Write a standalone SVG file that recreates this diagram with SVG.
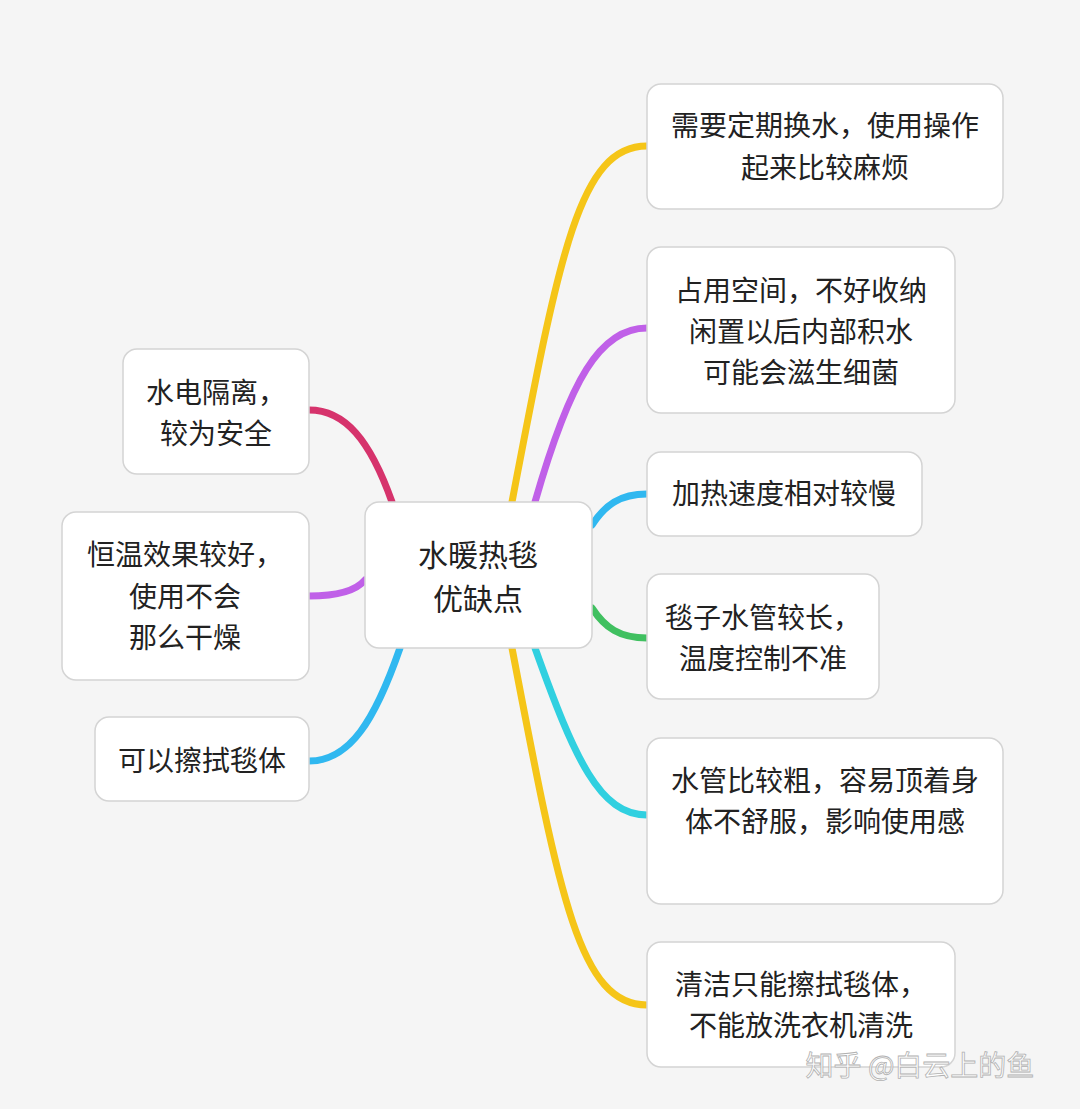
<svg xmlns="http://www.w3.org/2000/svg" width="1080" height="1109" viewBox="0 0 1080 1109">
<style>
.n{fill:#fff;stroke:#d4d4d4;stroke-width:1.5}
.t{font-family:"Noto Sans CJK SC","Noto Sans",sans-serif;font-size:28px;fill:#222;text-anchor:middle}
.c{fill:none;stroke-width:7;stroke-linecap:round}
</style>
<rect width="1080" height="1109" fill="#f5f5f5"/>
<g id="connectors">
<path class="c" stroke="#f5c518" d="M512,502 C560,250 580,146 647,146"/>
<path class="c" stroke="#f5c518" d="M512,648 C560,900 580,1005 647,1005"/>
<path class="c" stroke="#c060e8" d="M535,502 C570,380 600,328 647,328"/>
<path class="c" stroke="#30b8f0" d="M592,525 C605,505 620,494 647,494"/>
<path class="c" stroke="#40c060" d="M592,608 C605,628 620,638 647,638"/>
<path class="c" stroke="#30d0e0" d="M535,648 C575,760 600,815 647,815"/>
<path class="c" stroke="#d6336c" d="M392,502 C370,440 345,410 309,410"/>
<path class="c" stroke="#c060e8" d="M365,580 C355,592 335,596 309,596"/>
<path class="c" stroke="#30b8f0" d="M400,648 C375,720 350,761 309,761"/>
</g>
<g id="center"><rect class="n" x="365" y="502" width="227" height="146" rx="14"/>
<text class="t" font-size="30" x="478" y="566" style="font-size:30px">水暖热毯</text><text class="t" x="478" y="610" style="font-size:30px">优缺点</text></g>
<g id="r1"><rect class="n" x="647" y="84" width="356" height="125" rx="14"/>
<text class="t" x="825" y="136">需要定期换水，使用操作</text><text class="t" x="825" y="178">起来比较麻烦</text></g>
<g id="r2"><rect class="n" x="647" y="247" width="308" height="166" rx="14"/>
<text class="t" x="801" y="301">占用空间，不好收纳</text><text class="t" x="801" y="342">闲置以后内部积水</text><text class="t" x="801" y="383">可能会滋生细菌</text></g>
<g id="r3"><rect class="n" x="647" y="452" width="275" height="84" rx="14"/>
<text class="t" x="784" y="504">加热速度相对较慢</text></g>
<g id="r4"><rect class="n" x="647" y="574" width="232" height="125" rx="14"/>
<text class="t" x="763" y="628">毯子水管较长，</text><text class="t" x="763" y="669">温度控制不准</text></g>
<g id="r5"><rect class="n" x="647" y="738" width="356" height="166" rx="14"/>
<text class="t" x="825" y="791">水管比较粗，容易顶着身</text><text class="t" x="825" y="832">体不舒服，影响使用感</text></g>
<g id="r6"><rect class="n" x="647" y="942" width="308" height="125" rx="14"/>
<text class="t" x="801" y="995">清洁只能擦拭毯体，</text><text class="t" x="801" y="1036">不能放洗衣机清洗</text></g>
<g id="l1"><rect class="n" x="123" y="349" width="186" height="125" rx="14"/>
<text class="t" x="216" y="403">水电隔离，</text><text class="t" x="216" y="444">较为安全</text></g>
<g id="l2"><rect class="n" x="62" y="512" width="247" height="168" rx="14"/>
<text class="t" x="185" y="565">恒温效果较好，</text><text class="t" x="185" y="607">使用不会</text><text class="t" x="185" y="648">那么干燥</text></g>
<g id="l3"><rect class="n" x="95" y="717" width="214" height="84" rx="14"/>
<text class="t" x="202" y="771">可以擦拭毯体</text></g>
<text x="920" y="1076" style="font-family:'Noto Sans CJK SC',sans-serif;font-size:28px;fill:#fff;stroke:#aaa;stroke-width:0.8;text-anchor:middle;opacity:0.9">知乎 @白云上的鱼</text>
</svg>
